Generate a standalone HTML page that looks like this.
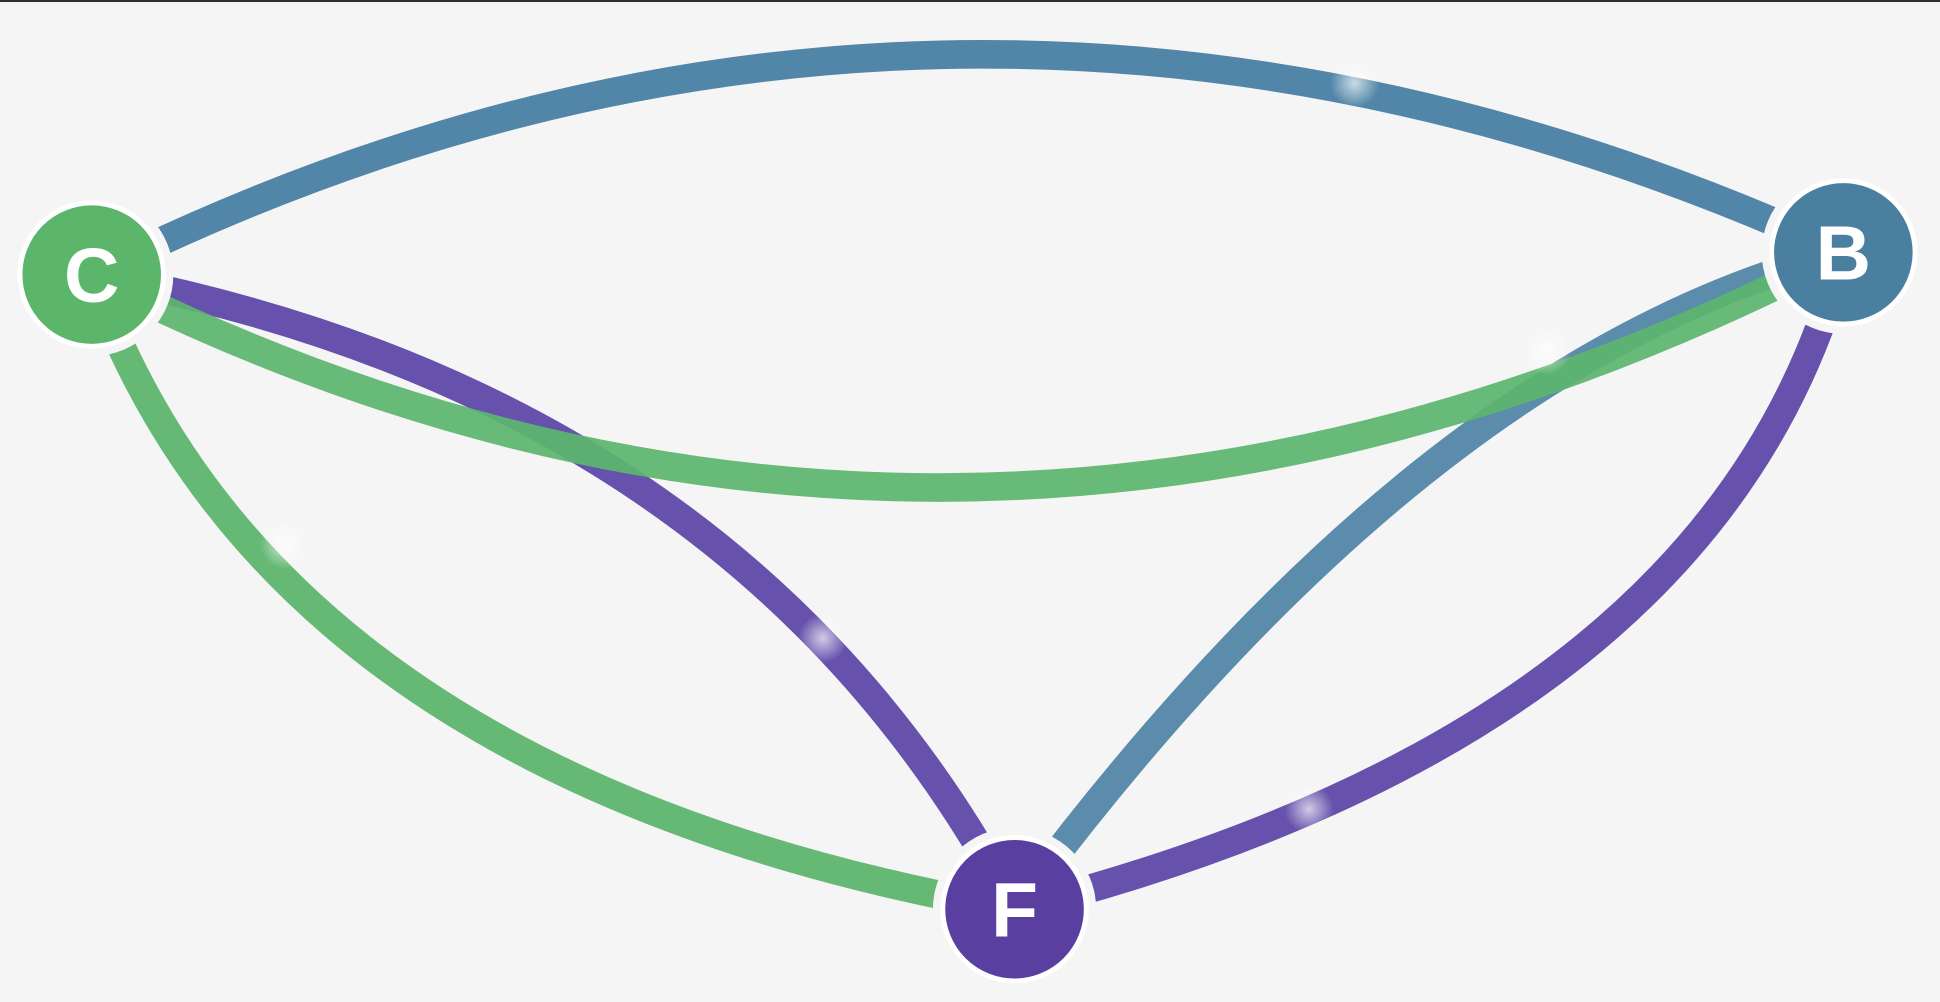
<!DOCTYPE html>
<html>
<head>
<meta charset="utf-8">
<style>
html,body{margin:0;padding:0;background:#f5f5f5;}
body{width:1940px;height:1002px;overflow:hidden;position:relative;}
.top{position:absolute;left:0;top:0;width:1940px;height:2px;background:#2a2f36;}
svg{position:absolute;left:0;top:0;}
</style>
</head>
<body>
<div class="top"></div>
<svg width="1940" height="1002" viewBox="0 0 1568 810" xmlns="http://www.w3.org/2000/svg">
<defs>
<radialGradient id="g" cx="50%" cy="50%" r="50%">
<stop offset="0%" stop-color="#fff" stop-opacity="0.7"/>
<stop offset="100%" stop-color="#fff" stop-opacity="0"/>
</radialGradient>
</defs>
<g fill="none" stroke-width="23" stroke-linecap="butt">
<path d="M74 222 Q770 -125 1490 204" stroke="#5286a8"/>
<path d="M74 222 Q220 630 820 735" stroke="#5db56e" stroke-opacity="0.95"/>
<path d="M74 222 Q600 320 820 735" stroke="#5e48a8" stroke-opacity="0.95"/>
<path d="M1490 204 Q1150 290 820 735" stroke="#5286a8" stroke-opacity="0.95"/>
<path d="M74 222 Q770 575 1490 204" stroke="#5db56e" stroke-opacity="0.93"/>
<path d="M1490 204 Q1390 590 820 735" stroke="#5e48a8" stroke-opacity="0.95"/>
</g>
<g>
<circle cx="1095" cy="67" r="20" fill="url(#g)"/>
<circle cx="1250" cy="283" r="20" fill="url(#g)"/>
<circle cx="230" cy="440" r="20" fill="url(#g)"/>
<circle cx="665" cy="516" r="20" fill="url(#g)"/>
<circle cx="1058" cy="654" r="20" fill="url(#g)"/>
</g>
<g fill="#f5f5f5">
<circle cx="74" cy="222" r="66"/>
<circle cx="1490" cy="204" r="66"/>
<circle cx="820" cy="735" r="66"/>
</g>
<g stroke="#ffffff" stroke-width="4">
<circle cx="74" cy="222" r="58" fill="#5bb56a"/>
<circle cx="1490" cy="204" r="58" fill="#4a7fa0"/>
<circle cx="820" cy="735" r="58" fill="#5b3fa0"/>
</g>
<g fill="#ffffff" font-family="Liberation Sans, sans-serif" font-size="62" font-weight="bold" text-anchor="middle">
<text x="74" y="244">C</text>
<text x="1490" y="226">B</text>
<text x="820" y="757">F</text>
</g>
</svg>
</body>
</html>
